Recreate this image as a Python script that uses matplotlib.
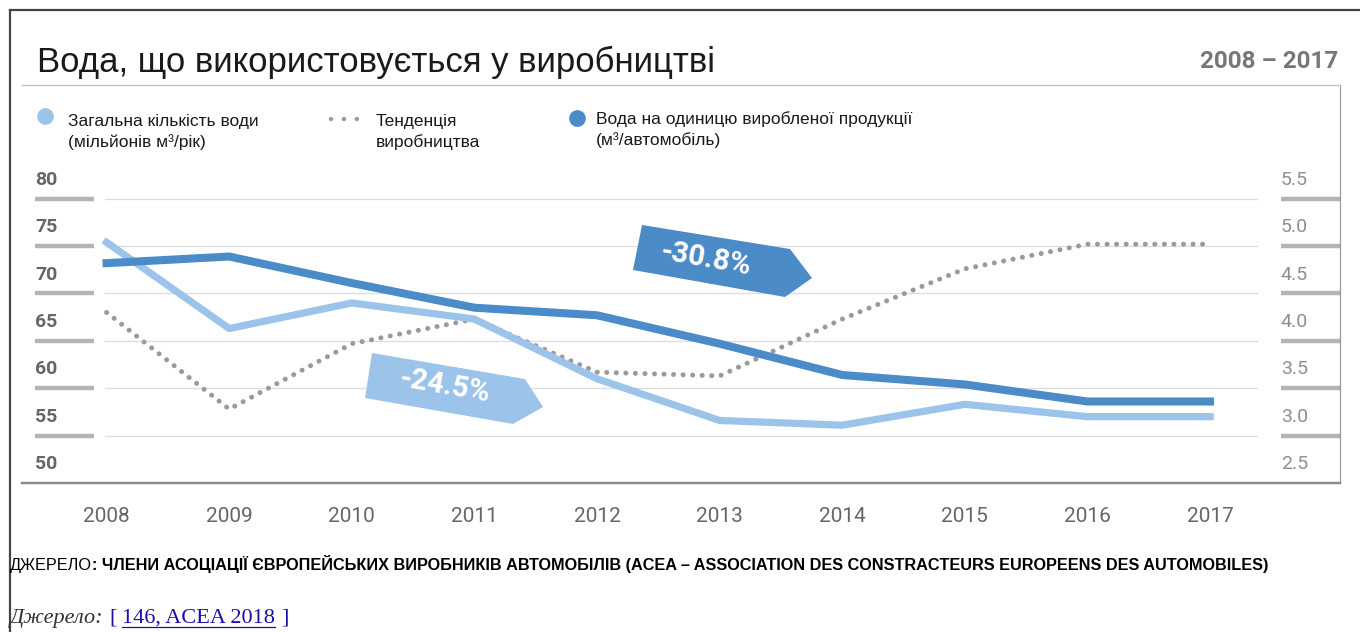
import numpy as np
import matplotlib.pyplot as plt
from matplotlib.lines import Line2D
from matplotlib.patches import Polygon

# DATA
years = [2008, 2009, 2010, 2011, 2012, 2013, 2014, 2015, 2016, 2017]
total_water = [75.4, 66.3, 69.0, 67.3, 61.0, 56.6, 56.1, 58.3, 57.0, 57.0]        # млн м3/рік (left)
water_per_car = [4.82, 4.89, 4.61, 4.35, 4.27, 3.97, 3.64, 3.54, 3.36, 3.36]      # м3/автомобіль (right)
production_trend = [68.0, 57.8, 64.7, 67.3, 61.7, 61.3, 67.3, 72.6, 75.2, 75.2]  # index, drawn on left scale
left_ticks = [50, 55, 60, 65, 70, 75, 80]
right_ticks = ['2.5', '3.0', '3.5', '4.0', '4.5', '5.0', '5.5']

W, H = 1360, 632
LIGHT = '#9cc4ea'
DARK = '#4a8bc8'
GREY_DOT = '#9a9a9a'

fig = plt.figure(figsize=(W / 100, H / 100), dpi=100)


def px(x, y):
    # pixel (from top-left) -> figure fraction
    return x / W, 1 - y / H


# axes box in pixels
L, R, T, B = 22, 1340, 85, 483
ax = fig.add_axes([L / W, 1 - B / H, (R - L) / W, (B - T) / H])
ax.set_ylim(50, 92)
ax.set_xlim(2007.31, 2018.06)
ax2 = ax.twinx()
ax2.set_ylim(2.5, 6.7)

for a in (ax, ax2):
    a.set_xticks([])
    a.set_yticks([])
    a.spines['left'].set_visible(False)
    a.spines['top'].set_color('#bdbdbd')
    a.spines['right'].set_color('#9a9a9a')
    a.spines['bottom'].set_color('#8a8a8a')
    a.spines['bottom'].set_linewidth(1.6)

# grid + thick tick bars
for v in left_ticks[1:]:
    ax.axhline(v, xmin=0.063, xmax=0.937, color='#dcdcdc', lw=0.9, zorder=0)
    ax.axhline(v, xmin=0.0099, xmax=0.0546, color='#b4b4b4', lw=3.2, solid_capstyle='butt')
    ax.axhline(v, xmin=0.955, xmax=1.0, color='#b4b4b4', lw=3.2, solid_capstyle='butt')

# tick labels sitting above the bars
for v, rl in zip(left_ticks, right_ticks):
    ax.text(0.0099, v + 2.0, str(v), transform=ax.get_yaxis_transform(), ha='left', va='center',
            fontsize=14, fontweight='bold', color='#666666', family='Roboto')
    ax.text(0.955, v + 2.0, rl, transform=ax.get_yaxis_transform(), ha='left', va='center',
            fontsize=14, color='#8f8f8f', family='Roboto')

# x labels
for yr in years:
    ax.text(yr, -0.085, str(yr), transform=ax.get_xaxis_transform(), ha='center', va='center',
            fontsize=15, color='#666666', family='Roboto')

# lines
ax.plot(years, production_trend, color=GREY_DOT, lw=3.6, linestyle=(0, (0.01, 1.9)),
        dash_capstyle='round', zorder=2)
ax.plot(years, total_water, color=LIGHT, lw=5.2, solid_joinstyle='round', zorder=3)
ax2.plot(years, water_per_car, color=DARK, lw=5.8, solid_joinstyle='round', zorder=3)


# percentage arrows
def arrow(pts, color, label, cx, cy):
    poly = Polygon([px(x, y) for x, y in pts], closed=True, transform=fig.transFigure,
                   facecolor=color, edgecolor='none', zorder=5)
    fig.add_artist(poly)
    fig.text(*px(cx, cy), label, ha='center', va='center', rotation=-10, color='white',
             fontsize=21, fontweight='bold', family='Roboto', zorder=6)


arrow([(642, 225), (790, 249), (812, 278), (785, 297), (633, 270)], DARK, '-30.8%', 706, 259)
arrow([(372, 353), (525, 379), (543, 407), (513, 424), (365, 398)], LIGHT, '-24.5%', 445, 386)

# title
fig.text(*px(37, 62), 'Вода, що використовується у виробництві', fontsize=25,
         family='Liberation Sans', color='#1a1a1a', va='center', ha='left')
fig.text(*px(1338, 62), '2008 – 2017', fontsize=17.5, fontweight='bold', family='Roboto',
         color='#777777', va='center', ha='right')

# legend
fig.add_artist(Line2D([px(45, 116)[0]], [px(45, 116)[1]], marker='o', ms=11, color=LIGHT,
                      transform=fig.transFigure))
fig.add_artist(Line2D([px(577, 118)[0]], [px(577, 118)[1]], marker='o', ms=11, color=DARK,
                      transform=fig.transFigure))
fig.add_artist(Line2D([px(331, 119)[0], px(368, 119)[0]], [px(331, 119)[1], px(368, 119)[1]],
                      color=GREY_DOT, lw=3.2, linestyle=(0, (0.01, 2.9)), dash_capstyle='round',
                      transform=fig.transFigure))
leg_kw = dict(fontsize=12.5, family='Liberation Sans', color='#1a1a1a', va='top', ha='left',
              linespacing=1.4)
fig.text(*px(68, 114), 'Загальна кількість води\n(мільйонів м³/рік)', **leg_kw)
fig.text(*px(376, 114), 'Тенденція\nвиробництва', **leg_kw)
fig.text(*px(596, 111), 'Вода на одиницю виробленої продукції\n(м³/автомобіль)', **leg_kw)

# outer frame
fig.add_artist(Line2D([px(10, 10)[0], px(1360, 10)[0]], [px(10, 10)[1]] * 2, color='#444444',
                      lw=1.6, transform=fig.transFigure))
fig.add_artist(Line2D([px(10, 10)[0]] * 2, [px(10, 10)[1], px(10, 632)[1]], color='#444444',
                      lw=1.6, transform=fig.transFigure))

# footer
r = fig.canvas.get_renderer()
t1 = fig.text(*px(10, 570), 'ДЖЕРЕЛО', fontsize=11.7, family='Liberation Sans', va='baseline',
              color='black')
bb = t1.get_window_extent(r)
fig.text(bb.x1 / W, 1 - 570 / H,
         ': ЧЛЕНИ АСОЦІАЦІЇ ЄВРОПЕЙСЬКИХ ВИРОБНИКІВ АВТОМОБІЛІВ (ACEA – ASSOCIATION DES '
         'CONSTRACTEURS EUROPEENS DES AUTOMOBILES)',
         fontsize=11.7, fontweight='bold', family='Liberation Sans', va='baseline', color='black')

FS = 16
t2 = fig.text(*px(10, 623), 'Джерело: ', fontsize=FS, style='italic', family='Liberation Serif',
              va='baseline', color='#333333')
bb = t2.get_window_extent(r)
fig.text(bb.x1 / W, 1 - 623 / H, '[', fontsize=FS, family='Liberation Serif', va='baseline',
         color='#1a0dab')
t3 = fig.text(bb.x1 / W + 13 / W, 1 - 623 / H, '146, ACEA 2018', fontsize=FS,
              family='Liberation Serif', va='baseline', color='#1a0dab')
bb3 = t3.get_window_extent(r)
fig.add_artist(Line2D([bb3.x0 / W, bb3.x1 / W], [(bb3.y0 + 1) / H] * 2, color='#1a0dab', lw=0.9,
                      transform=fig.transFigure))
fig.text(bb3.x1 / W + 6 / W, 1 - 623 / H, ']', fontsize=FS, family='Liberation Serif',
         va='baseline', color='#1a0dab')

fig.savefig('out.png', dpi=100)
